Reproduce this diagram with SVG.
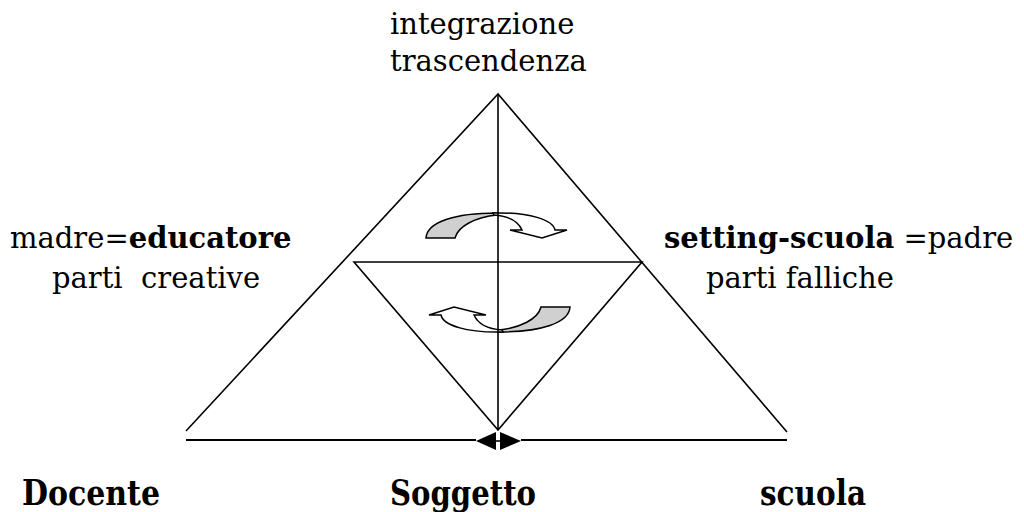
<svg xmlns="http://www.w3.org/2000/svg" xmlns:xlink="http://www.w3.org/1999/xlink" width="1024" height="512" viewBox="0 0 1024 512">
<style>
.ln{stroke:#000;stroke-width:1.6;fill:none;stroke-linecap:butt}
.t{font-family:"DejaVu Serif","Liberation Serif",serif;font-size:29px;fill:#000;white-space:pre}
.b{font-weight:bold}
.bt{font-family:"DejaVu Serif Condensed","DejaVu Serif","Liberation Serif",serif;font-size:36px;font-weight:bold;font-stretch:condensed;fill:#000}
.ar{stroke:#000;stroke-width:1.5;stroke-linejoin:miter}
</style>
<defs>
<g id="carrow">
<path class="ar" fill="#d0d0d0" d="M426,238 C427,222 455,213 497,213 L497,215 C476,217 458,226 455,238 Z"/>
<path class="ar" fill="#fff" d="M493,213 C530,212 553,220 555,230 L567,230 L542,238 L510,230 L522,230 C518,221 508,216 494,215 Z"/>
</g>
</defs>
<rect width="1024" height="512" fill="#fff"/>
<g id="arrows-rotation">
<use xlink:href="#carrow"/>
<use xlink:href="#carrow" transform="rotate(180 498 272.5)"/>
</g>
<g id="connectors">
<path class="ln" d="M186,431 L498,94 L787,432"/>
<line class="ln" x1="498" y1="94" x2="498" y2="430"/>
<path class="ln" d="M354,262 L642,262 L498,430 Z"/>
<line class="ln" x1="186" y1="440" x2="476" y2="440" style="stroke-width:2"/>
<line class="ln" x1="521" y1="440" x2="787" y2="440" style="stroke-width:2"/>
<path fill="#000" d="M476,441 L496,432 L496,450 Z"/>
<path fill="#000" d="M521,441 L500,432 L500,450 Z"/>
<line class="ln" x1="496" y1="441" x2="500" y2="441"/>
</g>
<g id="top-label">
<text class="t" x="390" y="34">integrazione</text>
<text class="t" x="390" y="71">trascendenza</text>
</g>
<g id="left-label">
<text class="t" x="10" y="248">madre=<tspan class="b">educatore</tspan></text>
<text class="t" x="52" y="288">parti  creative</text>
</g>
<g id="right-label">
<text class="t" x="664" y="248"><tspan class="b">setting-scuola</tspan> =padre</text>
<text class="t" x="706" y="288">parti falliche</text>
</g>
<g id="node-docente"><text class="bt" x="22" y="505" textLength="138" lengthAdjust="spacingAndGlyphs">Docente</text></g>
<g id="node-soggetto"><text class="bt" x="390" y="505" textLength="146" lengthAdjust="spacingAndGlyphs">Soggetto</text></g>
<g id="node-scuola"><text class="bt" x="760" y="505" textLength="106" lengthAdjust="spacingAndGlyphs">scuola</text></g>
</svg>
